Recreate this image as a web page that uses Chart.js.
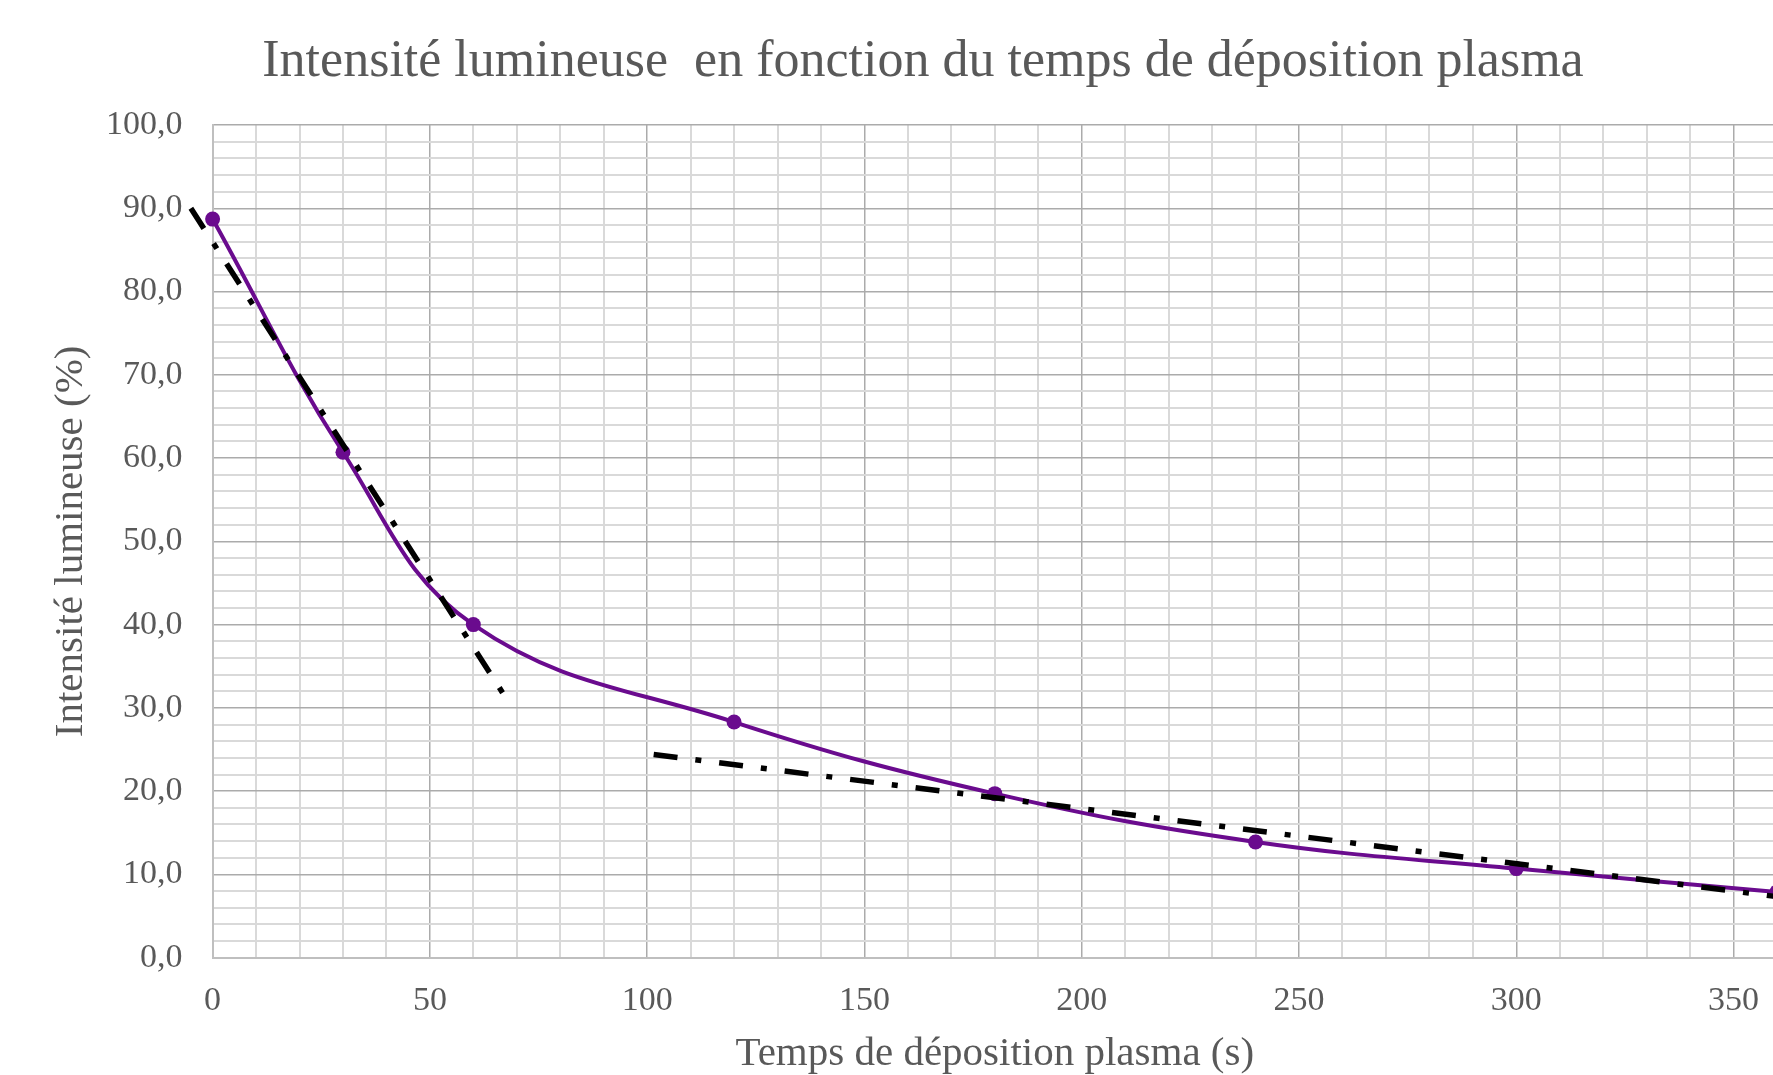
<!DOCTYPE html>
<html lang="fr">
<head>
<meta charset="utf-8">
<title>Intensité lumineuse en fonction du temps de déposition plasma</title>
<script src="https://cdn.jsdelivr.net/npm/chart.js@4/dist/chart.umd.min.js"></script>
<style>
  html, body { margin: 0; padding: 0; background: #fff; overflow: hidden; }
  #page { position: relative; width: 1773px; height: 1075px; overflow: hidden; }
  #wrap { position: absolute; left: 0; top: 0; width: 1800px; height: 1075px; }
  #title {
    position: absolute; left: 923px; top: 33px; transform: translateX(-50%);
    white-space: pre; font-family: 'Liberation Serif', serif; font-size: 52px;
    color: #595959; line-height: 1;
  }
</style>
</head>
<body>
<div id="page">
  <div id="wrap"><canvas id="chart"></canvas></div>
  <div id="title">Intensité lumineuse  en fonction du temps de déposition plasma</div>
</div>
<script>
// measured points (temps en s, intensité en %)
const times = [0, 30, 60, 120, 180, 240, 300, 360];
const intensity = [88.7, 60.7, 40.0, 28.3, 19.7, 13.9, 10.7, 7.9];

// linear trendlines (start / end)
const fastTrendX = [-5, 67.5];
const fastTrendY = [90.0, 31.2];
const slowTrendX = [101.5, 365];
const slowTrendY = [24.4, 7.0];

// axis ticks
const xMajorTicks = [0, 50, 100, 150, 200, 250, 300, 350];
const yMajorTicks = [0, 10, 20, 30, 40, 50, 60, 70, 80, 90, 100];

const PURPLE = '#6a0b8e';
const GREY_TEXT = '#595959';
const GRID_MINOR = '#d9d9d9';
const GRID_MAJOR = '#ababab';
const FONT = 'Liberation Serif';

const toPoints = (xs, ys) => xs.map((x, i) => ({ x, y: ys[i] }));

const trendStyle = {
  borderColor: '#000',
  borderWidth: 5.5,
  borderDash: [24, 18, 6, 18],
  borderCapStyle: 'butt',
  pointRadius: 0,
  tension: 0,
  fill: false,
  clip: false,
  order: 0,
};

new Chart(document.getElementById('chart'), {
  type: 'line',
  data: {
    datasets: [
      { ...trendStyle, label: 'Tendance 1', data: toPoints(fastTrendX, fastTrendY) },
      { ...trendStyle, label: 'Tendance 2', data: toPoints(slowTrendX, slowTrendY) },
      {
        label: 'Intensité lumineuse',
        data: toPoints(times, intensity),
        borderColor: PURPLE,
        backgroundColor: PURPLE,
        borderWidth: 4,
        pointRadius: 7.5,
        pointBorderWidth: 0,
        pointBackgroundColor: PURPLE,
        tension: 0.4,
        fill: false,
        clip: false,
        order: 1,
      },
    ],
  },
  options: {
    responsive: true,
    maintainAspectRatio: false,
    animation: false,
    layout: { padding: { left: 0, right: 0, top: 125, bottom: 0 } },
    plugins: {
      legend: { display: false },
      tooltip: { enabled: false },
    },
    scales: {
      x: {
        type: 'linear',
        min: 0,
        max: 360,
        afterFit: (s) => { s.height = 1075 - 957.7; },
        border: { color: '#bfbfbf', width: 2 },
        grid: {
          drawTicks: false,
          color: (c) => (xMajorTicks.includes(c.tick.value) ? GRID_MAJOR : GRID_MINOR),
          lineWidth: (c) => (xMajorTicks.includes(c.tick.value) ? 1.5 : 2),
        },
        ticks: {
          stepSize: 10,
          autoSkip: false,
          maxRotation: 0,
          padding: 23,
          color: GREY_TEXT,
          font: { family: FONT, size: 34 },
          callback: (v) => (xMajorTicks.includes(v) ? String(v) : ''),
        },
        title: {
          display: true,
          text: 'Temps de déposition plasma (s)',
          color: GREY_TEXT,
          font: { family: FONT, size: 41, lineHeight: 1 },
          padding: { top: 0, bottom: 0 },
        },
      },
      y: {
        min: 0,
        max: 100,
        afterFit: (s) => { s.width = 212.6; },
        border: { color: '#bfbfbf', width: 2 },
        grid: {
          drawTicks: false,
          color: (c) => (yMajorTicks.includes(c.tick.value) ? GRID_MAJOR : GRID_MINOR),
          lineWidth: (c) => (yMajorTicks.includes(c.tick.value) ? 1.5 : 2),
        },
        ticks: {
          stepSize: 2,
          autoSkip: false,
          padding: 30,
          color: GREY_TEXT,
          font: { family: FONT, size: 34 },
          callback: (v) => (yMajorTicks.includes(v) ? v.toFixed(1).replace('.', ',') : ''),
        },
        title: {
          display: true,
          text: 'Intensité lumineuse (%)',
          color: GREY_TEXT,
          font: { family: FONT, size: 41, lineHeight: 1 },
          padding: { top: 51, bottom: 0 },
        },
      },
    },
  },
});
</script>
</body>
</html>
